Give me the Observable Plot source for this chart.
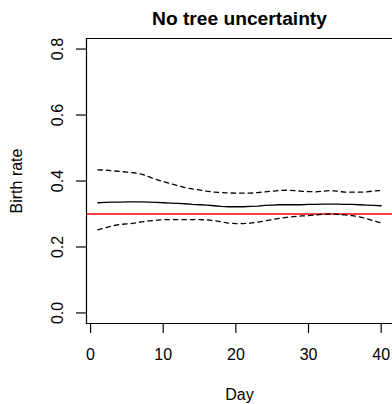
<!DOCTYPE html>
<html><head><meta charset="utf-8">
<script src="https://cdn.jsdelivr.net/npm/d3@7"></script>
<script src="https://cdn.jsdelivr.net/npm/@observablehq/plot@0.6"></script>
<style>html,body{margin:0;padding:0;background:#fff}</style>
</head><body><div id="chart"></div>
<script>
const days = [1,2,3,4,5,6,7,8,9,10,11,12,13,14,15,16,17,18,19,20,21,22,23,24,25,26,27,28,29,30,31,32,33,34,35,36,37,38,39,40];
const upper = [0.434,0.433,0.431,0.429,0.427,0.425,0.421,0.413,0.405,0.398,0.392,0.386,0.380,0.376,0.373,0.369,0.366,0.365,0.364,0.363,0.363,0.363,0.365,0.367,0.369,0.371,0.372,0.371,0.369,0.368,0.367,0.369,0.371,0.369,0.366,0.366,0.366,0.367,0.370,0.371];
const median = [0.334,0.335,0.336,0.336,0.337,0.337,0.337,0.336,0.335,0.334,0.333,0.332,0.331,0.329,0.328,0.327,0.325,0.323,0.322,0.322,0.322,0.323,0.324,0.326,0.327,0.328,0.328,0.328,0.328,0.329,0.329,0.330,0.330,0.330,0.329,0.329,0.328,0.327,0.326,0.325];
const lower = [0.252,0.258,0.264,0.268,0.270,0.272,0.276,0.279,0.281,0.283,0.283,0.283,0.283,0.283,0.283,0.282,0.280,0.276,0.272,0.271,0.271,0.272,0.275,0.279,0.283,0.287,0.290,0.292,0.294,0.295,0.297,0.299,0.300,0.299,0.297,0.295,0.291,0.286,0.279,0.273];
const trueRate = [0.3];
const xTicks = [0,10,20,30,40];
const yTicks = [0,0.2,0.4,0.6,0.8];
const title = "No tree uncertainty";
const xLabel = "Day";
const yLabel = "Birth rate";

const data = days.map((d,i) => ({day: d, upper: upper[i], median: median[i], lower: lower[i]}));

const chart = Plot.plot({
  width: 392, height: 404,
  marginLeft: 86, marginRight: 0, marginTop: 38, marginBottom: 81,
  style: {fontFamily: "'Liberation Sans', Arial, Helvetica, sans-serif", fontSize: "16px", background: "#fff", color: "#000", overflow: "visible"},
  x: {domain: [-0.56, 41.56]},
  y: {domain: [-0.032, 0.832]},
  marks: [
    Plot.ruleY(trueRate, {stroke: "#ff0000", strokeWidth: 1.3}),
    Plot.line(data, {x: "day", y: "upper", stroke: "#000", strokeWidth: 1.3, strokeDasharray: "4.5,4"}),
    Plot.line(data, {x: "day", y: "lower", stroke: "#000", strokeWidth: 1.3, strokeDasharray: "4.5,4"}),
    Plot.line(data, {x: "day", y: "median", stroke: "#000", strokeWidth: 1.3}),
    Plot.frame({anchor: "left", stroke: "#000", strokeWidth: 1.2}),
    Plot.frame({anchor: "top", stroke: "#000", strokeWidth: 1.2}),
    Plot.frame({anchor: "bottom", stroke: "#000", strokeWidth: 1.2}),
    Plot.axisX(xTicks, {tickSize: 10, tickPadding: 15.5, fontSize: 16, label: null, tickFormat: d => String(d), strokeWidth: 1.2}),
    Plot.axisY(yTicks, {tickSize: 10, tickPadding: 14, tickRotate: -90, fontSize: 16, label: null, tickFormat: d3.format(".1f"), strokeWidth: 1.2}),
    Plot.text([title], {frameAnchor: "top", dy: -14, lineAnchor: "bottom", fontWeight: "bold", fontSize: 19.2, fill: "#000"}),
    Plot.text([xLabel], {frameAnchor: "bottom", dy: 76.5, lineAnchor: "bottom", fontSize: 16, fill: "#000"}),
    Plot.text([yLabel], {frameAnchor: "left", dx: -64.5, rotate: -90, lineAnchor: "bottom", textAnchor: "middle", fontSize: 16, fill: "#000"})
  ]
});
document.getElementById("chart").appendChild(chart);
</script>
</body></html>
